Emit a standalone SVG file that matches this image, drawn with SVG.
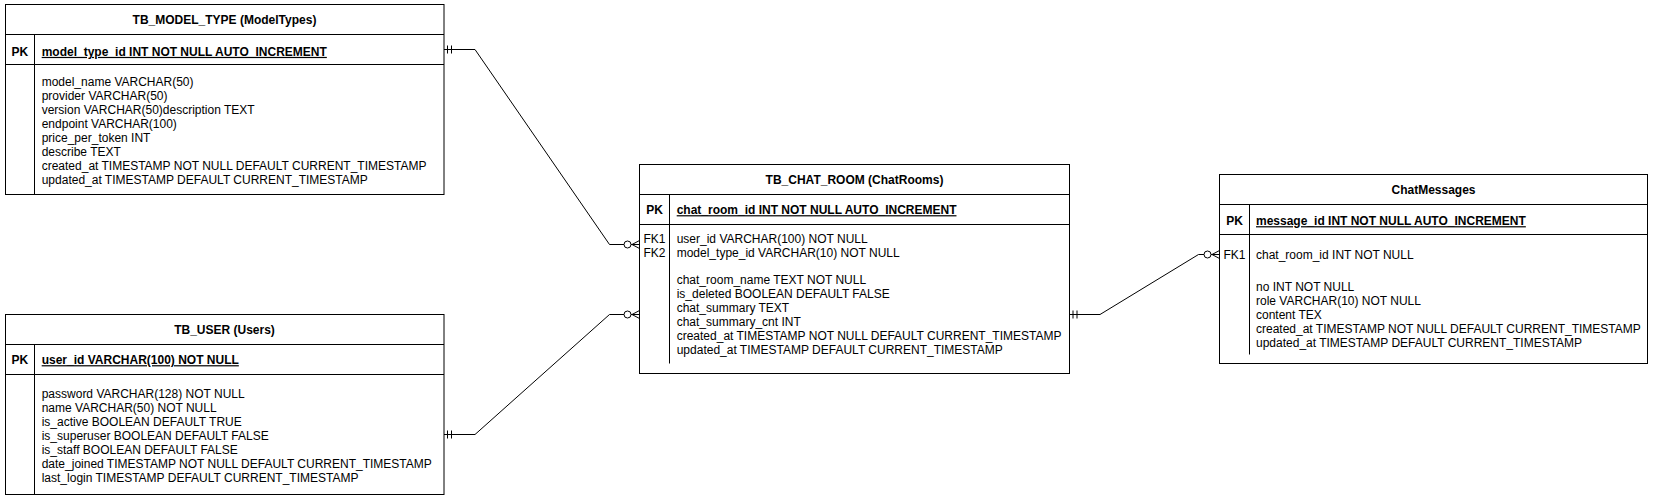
<svg xmlns="http://www.w3.org/2000/svg" width="1654" height="501" viewBox="0 0 1654 501">
<style>
.box{fill:#fff;stroke:#000;stroke-width:1}
.ln{stroke:#000;stroke-width:1;fill:none}
text{font-family:"Liberation Sans",Arial,Helvetica,sans-serif;font-size:12px;fill:#000}
.t{font-weight:bold;text-anchor:middle}
.pk{font-weight:bold;text-anchor:middle}
.pkf{font-weight:bold;text-decoration:underline}
.fk{text-anchor:middle}
.c{fill:#fff;stroke:#000;stroke-width:1}
</style>
<rect width="1654" height="501" fill="#fff"/>
<g id="tb_model_type">
<rect class="box" x="5.5" y="4.5" width="438.5" height="190"/>
<path class="ln" d="M5.5 34.5H444M5.5 64.5H444M34.5 34.5V194.5"/>
<text class="t" x="224.5" y="24.2">TB_MODEL_TYPE (ModelTypes)</text>
<text class="pk" x="19.8" y="55.9">PK</text>
<text class="pkf" x="41.7" y="55.9">model_type_id INT NOT NULL AUTO_INCREMENT</text>
<text x="41.7" y="85.9">model_name VARCHAR(50)</text>
<text x="41.7" y="99.9">provider VARCHAR(50)</text>
<text x="41.7" y="113.9">version VARCHAR(50)description TEXT</text>
<text x="41.7" y="127.9">endpoint VARCHAR(100)</text>
<text x="41.7" y="141.9">price_per_token INT</text>
<text x="41.7" y="155.9">describe TEXT</text>
<text x="41.7" y="169.9">created_at TIMESTAMP NOT NULL DEFAULT CURRENT_TIMESTAMP</text>
<text x="41.7" y="183.9">updated_at TIMESTAMP DEFAULT CURRENT_TIMESTAMP</text>
</g>
<g id="tb_user">
<rect class="box" x="5.5" y="314.5" width="438.5" height="180"/>
<path class="ln" d="M5.5 344.5H444M5.5 374.5H444M34.5 344.5V494.5"/>
<text class="t" x="224.5" y="333.6">TB_USER (Users)</text>
<text class="pk" x="19.8" y="364.2">PK</text>
<text class="pkf" x="41.7" y="364.2">user_id VARCHAR(100) NOT NULL</text>
<text x="41.7" y="397.8">password VARCHAR(128) NOT NULL</text>
<text x="41.7" y="411.8">name VARCHAR(50) NOT NULL</text>
<text x="41.7" y="425.8">is_active BOOLEAN DEFAULT TRUE</text>
<text x="41.7" y="439.8">is_superuser BOOLEAN DEFAULT FALSE</text>
<text x="41.7" y="453.8">is_staff BOOLEAN DEFAULT FALSE</text>
<text x="41.7" y="467.8">date_joined TIMESTAMP NOT NULL DEFAULT CURRENT_TIMESTAMP</text>
<text x="41.7" y="481.8">last_login TIMESTAMP DEFAULT CURRENT_TIMESTAMP</text>
</g>
<g id="tb_chat_room">
<rect class="box" x="639.5" y="164.5" width="430" height="209"/>
<path class="ln" d="M639.5 194.5H1069.5M639.5 224.5H1069.5M669.5 194.5V363.5"/>
<text class="t" x="854.5" y="183.5">TB_CHAT_ROOM (ChatRooms)</text>
<text class="pk" x="654.5" y="214.2">PK</text>
<text class="pkf" x="676.7" y="214.2">chat_room_id INT NOT NULL AUTO_INCREMENT</text>
<text class="fk" x="654.5" y="243.2">FK1</text>
<text class="fk" x="654.5" y="256.9">FK2</text>
<text x="676.7" y="243.2">user_id VARCHAR(100) NOT NULL</text>
<text x="676.7" y="256.9">model_type_id VARCHAR(10) NOT NULL</text>
<text x="676.7" y="284.1">chat_room_name TEXT NOT NULL</text>
<text x="676.7" y="298">is_deleted BOOLEAN DEFAULT FALSE</text>
<text x="676.7" y="311.9">chat_summary TEXT</text>
<text x="676.7" y="325.8">chat_summary_cnt INT</text>
<text x="676.7" y="339.7">created_at TIMESTAMP NOT NULL DEFAULT CURRENT_TIMESTAMP</text>
<text x="676.7" y="353.6">updated_at TIMESTAMP DEFAULT CURRENT_TIMESTAMP</text>
</g>
<g id="chat_messages">
<rect class="box" x="1219.5" y="174.5" width="428" height="189"/>
<path class="ln" d="M1219.5 204.5H1647.5M1219.5 234.5H1647.5M1249.5 204.5V354.5"/>
<text class="t" x="1433.5" y="194.2">ChatMessages</text>
<text class="pk" x="1234.5" y="225.2">PK</text>
<text class="pkf" x="1256" y="225.2">message_id INT NOT NULL AUTO_INCREMENT</text>
<text class="fk" x="1234.5" y="259.2">FK1</text>
<text x="1256" y="259.2">chat_room_id INT NOT NULL</text>
<text x="1256" y="290.9">no INT NOT NULL</text>
<text x="1256" y="304.9">role VARCHAR(10) NOT NULL</text>
<text x="1256" y="318.9">content TEX</text>
<text x="1256" y="332.9">created_at TIMESTAMP NOT NULL DEFAULT CURRENT_TIMESTAMP</text>
<text x="1256" y="346.9">updated_at TIMESTAMP DEFAULT CURRENT_TIMESTAMP</text>
</g>
<g id="connectors">
<path class="ln" d="M444 49.5H475L609.5 244.5H639.5"/>
<path class="ln" d="M447.5 45.5V53.5M451.5 45.5V53.5"/>
<path class="ln" d="M632 244.5L639.5 240.5M632 244.5L639.5 248.5"/>
<circle class="c" cx="627.5" cy="244.5" r="3.5"/>
<path class="ln" d="M444 434.5H475L609.5 314.5H639.5"/>
<path class="ln" d="M447.5 430.5V438.5M451.5 430.5V438.5"/>
<path class="ln" d="M632 314.5L639.5 310.5M632 314.5L639.5 318.5"/>
<circle class="c" cx="627.5" cy="314.5" r="3.5"/>
<path class="ln" d="M1069.5 314.5H1100L1198.5 254.5H1219.5"/>
<path class="ln" d="M1073 310.5V318.5M1077 310.5V318.5"/>
<path class="ln" d="M1212 254.5L1219.5 250.5M1212 254.5L1219.5 258.5"/>
<circle class="c" cx="1207.5" cy="254.5" r="3.5"/>
</g>
</svg>
